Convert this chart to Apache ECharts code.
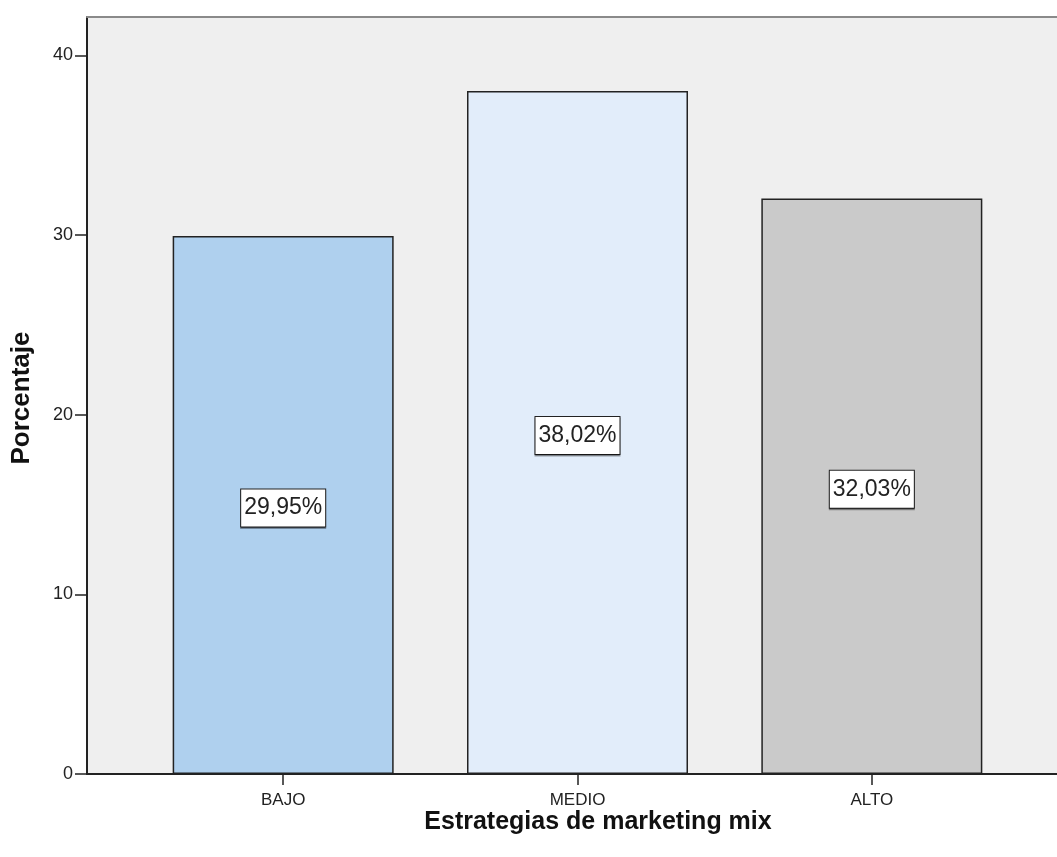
<!DOCTYPE html>
<html>
<head>
<meta charset="utf-8">
<script src="https://cdn.jsdelivr.net/npm/echarts@6/dist/echarts.min.js"></script>
<style>
  html, body { margin: 0; padding: 0; background: #ffffff; }
  #chart { width: 1057px; height: 857px; }
</style>
</head>
<body>
<div id="chart"></div>
<script>
// Strategy level categories and their share (%)
const categories = ['BAJO', 'MEDIO', 'ALTO'];
const percentages = [29.95, 38.02, 32.03];
const barColors = ['#afd0ee', '#e2edfa', '#cacaca'];
const yTicks = [0, 10, 20, 30, 40];

const Y_MAX = 42.14;
const FONT = '"Liberation Sans", Arial, sans-serif';

const chart = echarts.init(document.getElementById('chart'), null, { renderer: 'canvas' });

chart.setOption({
  animation: false,
  backgroundColor: '#ffffff',
  grid: [
    // plot frame with the value axis
    { left: 87, right: 0, top: 17, bottom: 83, show: true, backgroundColor: '#efefef', borderWidth: 0 },
    // band for the bars
    { left: 136, width: 883, top: 17, bottom: 83 }
  ],
  xAxis: [
    {
      gridIndex: 0, type: 'value', min: 0, max: 1, position: 'bottom',
      axisLine: { show: true, onZero: false, lineStyle: { color: '#222', width: 2 } },
      axisTick: { show: false }, axisLabel: { show: false }, splitLine: { show: false }
    },
    {
      gridIndex: 0, type: 'value', min: 0, max: 1, position: 'top',
      axisLine: { show: true, onZero: false, lineStyle: { color: '#8a8a8a', width: 2 } },
      axisTick: { show: false }, axisLabel: { show: false }, splitLine: { show: false }
    },
    {
      gridIndex: 1, type: 'category', data: categories,
      axisLine: { show: false },
      axisTick: { show: true, alignWithLabel: true, length: 11, lineStyle: { color: '#222', width: 1.5 } },
      axisLabel: { color: '#222', fontFamily: FONT, fontSize: 17, margin: 18 }
    }
  ],
  yAxis: [
    {
      gridIndex: 0, type: 'value', min: 0, max: Y_MAX, interval: 10,
      axisLine: { show: true, lineStyle: { color: '#222', width: 2 } },
      axisTick: { show: true, length: 12, lineStyle: { color: '#222', width: 1.5 }, customValues: yTicks },
      axisLabel: { color: '#222', fontFamily: FONT, fontSize: 18, margin: 14, customValues: yTicks },
      splitLine: { show: false }
    },
    {
      gridIndex: 1, type: 'value', min: 0, max: Y_MAX,
      show: false, splitLine: { show: false }
    }
  ],
  series: [
    {
      type: 'bar',
      xAxisIndex: 2, yAxisIndex: 1,
      barWidth: 221,
      data: percentages.map((v, i) => ({
        value: v,
        itemStyle: { color: barColors[i] }
      })),
      itemStyle: { borderColor: '#222', borderWidth: 1.5 },
      label: {
        show: true,
        position: 'inside',
        offset: [0, 3],
        formatter: p => p.value.toFixed(2).replace('.', ',') + '%',
        color: '#222',
        fontFamily: FONT,
        fontSize: 23,
        backgroundColor: '#ffffff',
        borderColor: '#222',
        borderWidth: 1,
        padding: [7, 3, 7, 3],
        shadowColor: 'rgba(0,0,0,0.35)',
        shadowOffsetX: 0,
        shadowOffsetY: 1.5,
        shadowBlur: 0
      }
    }
  ],
  graphic: [
    {
      type: 'text',
      x: 598, y: 822,
      style: {
        text: 'Estrategias de marketing mix',
        fill: '#111', font: 'bold 25px ' + FONT,
        textAlign: 'center', textVerticalAlign: 'middle'
      }
    },
    {
      type: 'text',
      x: 22, y: 398, rotation: Math.PI / 2,
      style: {
        text: 'Porcentaje',
        fill: '#111', font: 'bold 26px ' + FONT,
        textAlign: 'center', textVerticalAlign: 'middle'
      }
    }
  ]
});
</script>
</body>
</html>
